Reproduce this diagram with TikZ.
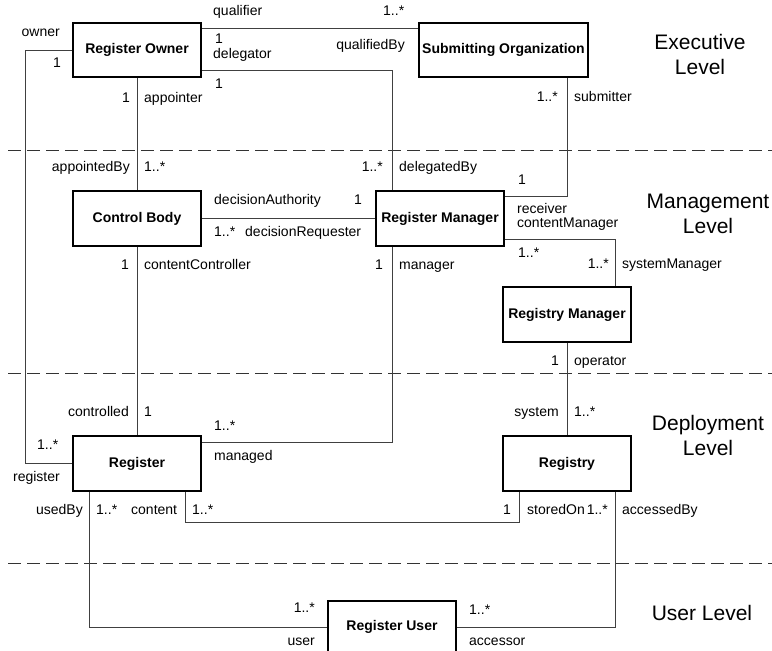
\documentclass[tikz,border=0pt]{standalone}
\usepackage{fontspec}
\setmainfont{Liberation Sans}
\begin{document}
\begin{tikzpicture}[x=1pt,y=-1pt,
  box/.style={draw=black, line width=1.3pt, fill=white, minimum width=128pt, minimum height=55pt, inner sep=0pt, font=\fontsize{14}{16}\selectfont\bfseries},
  conn/.style={draw=black!75, line width=1pt},
  divider/.style={draw=black!80, line width=1pt, dash pattern=on 13pt off 6pt},
  lbl/.style={inner sep=0pt, font=\fontsize{14}{16}\selectfont},
  lw/.style={lbl, anchor=mid west},
  le/.style={lbl, anchor=mid east},
  levellbl/.style={inner sep=0pt, align=center, font=\fontsize{21}{25}\selectfont}]
\useasboundingbox (0,0) rectangle (772,651);
\fill[white] (0,0) rectangle (772,651);

% dividers
\coordinate (d1a) at (8,150); \coordinate (d1b) at (772,150);
\coordinate (d2a) at (8,373); \coordinate (d2b) at (772,373);
\coordinate (d3a) at (8,563); \coordinate (d3b) at (772,563);
\draw[divider] (d1a) -- (d1b);
\draw[divider] (d2a) -- (d2b);
\draw[divider] (d3a) -- (d3b);

% boxes
\node[box, minimum height=54pt] (ro) at (137,50) {Register Owner};
\node[box, minimum height=54pt, minimum width=169pt] (so) at (503.5,50) {Submitting Organization};
\node[box] (cb) at (137,218.5) {Control Body};
\node[box] (rm) at (440,218.5) {Register Manager};
\node[box] (rmg) at (567,314.5) {Registry Manager};
\node[box] (reg) at (137,463.5) {Register};
\node[box] (rgy) at (567,463.5) {Registry};
\node[box, minimum height=52pt] (ru) at (392,627) {Register User};

% connectors
\draw[conn] ([yshift=-6pt]ro.north east) -- ([yshift=-6pt]so.north west);
\draw[conn] ([yshift=7pt]ro.south east) -| ([xshift=-48pt]rm.north);
\draw[conn] (ro.west) -- ++(-47,0) |- (reg.west);
\draw[conn] (ro.south) -- (cb.north);
\draw[conn] ([xshift=63.5pt]so.south) |- ([yshift=-6pt]rm.north east);
\draw[conn] (cb.east) -- (rm.west);
\draw[conn] ([yshift=7pt]rm.south east) -| ([xshift=48pt]rmg.north);
\draw[conn] (rmg.south) -- (rgy.north);
\draw[conn] (cb.south) -- (reg.north);
\draw[conn] ([xshift=-48pt]rm.south) |- ([yshift=-7pt]reg.north east);
\draw[conn] ([xshift=-48pt]reg.south) |- (ru.west);
\draw[conn] ([xshift=48pt]reg.south) -- ++(0,31) -| ([xshift=-48pt]rgy.south);
\draw[conn] ([xshift=48pt]rgy.south) |- (ru.east);

% labels
\node[lw] (l1) at (213,13) {qualifier};
\node[lw] (l2) at (383,13) {1..*};
\node[lw] (l3) at (215,41) {1};
\node[lw] (l4) at (213,56) {delegator};
\node[le] (l5) at (405,47) {qualifiedBy};
\node[lw] (l6) at (215,86) {1};
\node[le] (l7) at (60,34) {owner};
\node[le] (l8) at (61,65) {1};
\node[le] (l9) at (130,100) {1};
\node[lw] (l10) at (144,100) {appointer};
\node[le] (l11) at (558,99) {1..*};
\node[lw] (l12) at (574,99) {submitter};
\node[le] (l13) at (130,169) {appointedBy};
\node[lw] (l14) at (144,169) {1..*};
\node[le] (l15) at (383,169) {1..*};
\node[lw] (l16) at (399,169) {delegatedBy};
\node[lw] (l17) at (518,182) {1};
\node[lw] (l18) at (517,211) {receiver};
\node[lw] (l19) at (517,225) {contentManager};
\node[lw] (l20) at (214,202) {decisionAuthority};
\node[le] (l21) at (362,202) {1};
\node[lw] (l22) at (214,234) {1..*};
\node[lw] (l23) at (245,234) {decisionRequester};
\node[le] (l24) at (129,267) {1};
\node[lw] (l25) at (144,267) {contentController};
\node[le] (l26) at (383,267) {1};
\node[lw] (l27) at (399,267) {manager};
\node[lw] (l28) at (518,255) {1..*};
\node[le] (l29) at (609,266) {1..*};
\node[lw] (l30) at (622,266) {systemManager};
\node[le] (l31) at (559,363) {1};
\node[lw] (l32) at (574,363) {operator};
\node[le] (l33) at (559,414) {system};
\node[lw] (l34) at (574,414) {1..*};
\node[le] (l35) at (129,414) {controlled};
\node[lw] (l36) at (144,414) {1};
\node[lw] (l37) at (214,428) {1..*};
\node[lw] (l38) at (37,447) {1..*};
\node[lw] (l39) at (214,458) {managed};
\node[le] (l40) at (60,479) {register};
\node[le] (l41) at (83,512) {usedBy};
\node[lw] (l42) at (96,512) {1..*};
\node[lw] (l43) at (131,512) {content};
\node[lw] (l44) at (192,512) {1..*};
\node[le] (l45) at (511,512) {1};
\node[lw] (l46) at (527,512) {storedOn};
\node[le] (l47) at (608,512) {1..*};
\node[lw] (l48) at (622,512) {accessedBy};
\node[le] (l49) at (315,610) {1..*};
\node[le] (l50) at (315,643) {user};
\node[lw] (l51) at (469,612) {1..*};
\node[lw] (l52) at (469,643) {accessor};

% level labels
\node[levellbl] (lv1) at (700,54.5) {Executive\\Level};
\node[levellbl] (lv2) at (708,213.5) {Management\\Level};
\node[levellbl] (lv3) at (708,435.5) {Deployment\\Level};
\node[levellbl] (lv4) at (702,613) {User Level};
\end{tikzpicture}
\end{document}
